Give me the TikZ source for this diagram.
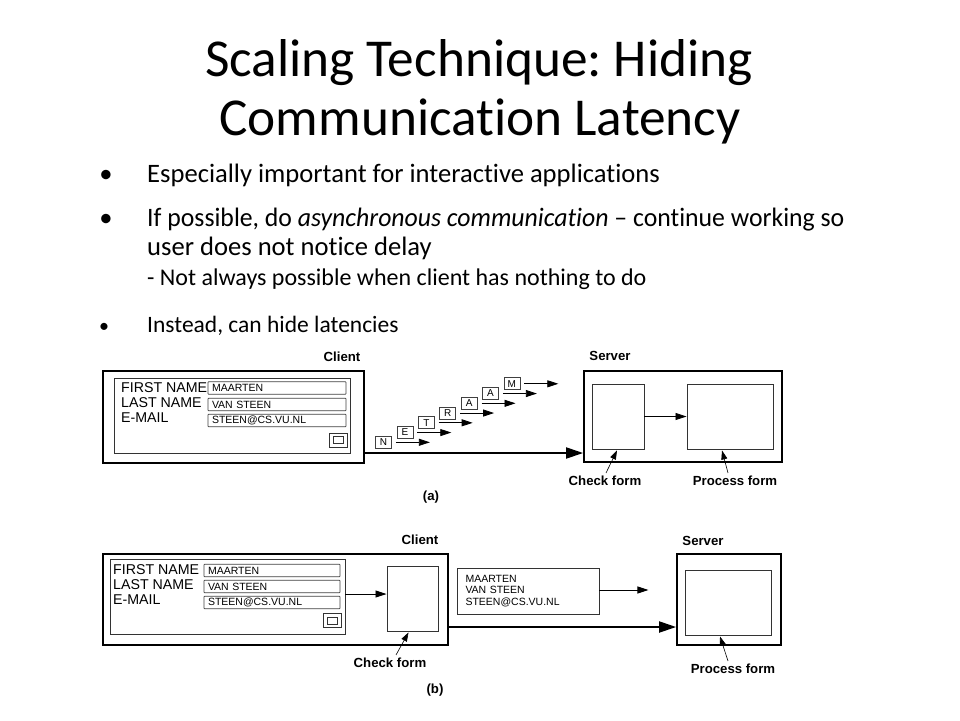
\documentclass[tikz,border=0pt]{standalone}
\usepackage{fontspec}
\setmainfont{Carlito}[Ligatures={NoCommon}]
\newfontfamily\arialf{Liberation Sans}
\usetikzlibrary{arrows.meta,calc}
\frenchspacing
\begin{document}
\begin{tikzpicture}[x=1pt,y=-1pt,
  outerbox/.style={draw=black, line width=1.8pt, inner sep=0pt},
  innerbox/.style={draw=black!80, line width=0.9pt, inner sep=0pt},
  field/.style={draw=black!75, line width=0.8pt, minimum width=#1, minimum height=12.5, inner xsep=3.5pt, inner ysep=0pt, text width=#1-8, align=left, font=\arialf\fontsize{10.5}{11}\selectfont, rounded corners=0.6pt},
  flabel/.style={font=\arialf\fontsize{14.2}{14}\selectfont, anchor=west, inner sep=0pt},
  hdr/.style={font=\arialf\bfseries\fontsize{13.2}{13}\selectfont, inner sep=0pt},
  letterbox/.style={draw=black!75, line width=0.8pt, minimum width=16, minimum height=12, inner sep=0pt, font=\arialf\fontsize{10}{10}\selectfont},
  sarrow/.style={-{Triangle[length=11pt,width=7pt]}, line width=0.8pt},
  bigarrow/.style={-{Triangle[length=17pt,width=11pt]}, line width=2pt},
  ptr/.style={-{Triangle[length=9pt,width=6pt]}, line width=0.6pt},
  btn/.style={draw=black!80, line width=0.8pt, minimum width=18, minimum height=14, inner sep=0pt},
  btninner/.style={draw=black!80, line width=0.7pt, minimum width=10, minimum height=7, inner sep=0pt},
  bodytext/.style={font=\fontsize{26.6}{30}\selectfont, anchor=base west, inner sep=0pt},
  subtext/.style={font=\fontsize{24}{28}\selectfont, anchor=base west, inner sep=0pt}
]
\useasboundingbox (0,0) rectangle (960,720);

% Title
\node[font=\fontsize{53.3}{60}\selectfont, anchor=base, inner sep=0pt] (title1) at (479,76) {Scaling Technique: Hiding};
\node[font=\fontsize{53.3}{60}\selectfont, anchor=base, inner sep=0pt] (title2) at (480,135) {Communication Latency};

% Bullets
\node[font=\fontsize{26.6}{30}\selectfont, anchor=base, inner sep=0pt] (b1) at (106,182) {•};
\node[bodytext] (t1) at (147,182) {Especially important for interactive applications};
\node[font=\fontsize{26.6}{30}\selectfont, anchor=base, inner sep=0pt] (b2) at (106,226) {•};
\node[bodytext] (t2) at (147,226) {\scalebox{0.968}[1]{If possible, do \textit{asynchronous communication} – continue working so}};
\node[bodytext] (t3) at (147,255) {user does not notice delay};
\node[subtext] (t4) at (147,285) {- Not always possible when client has nothing to do};
\node[font=\fontsize{20}{22}\selectfont, anchor=base, inner sep=0pt] (b3) at (104,332) {•};
\node[font=\fontsize{23.5}{26}\selectfont, anchor=base west, inner sep=0pt] (t5) at (147,332) {Instead, can hide latencies};

% ---------- (a) ----------
\node[outerbox, minimum width=261, minimum height=92] (clientA) at (233.5,417) {};
\node[innerbox, minimum width=236, minimum height=75] (formA) at (232,415.5) {};
\node[hdr] (clientAl) at (342,357) {Client};
\node[flabel] (fnA) at (121,388) {FIRST NAME};
\node[flabel] (lnA) at (121,403) {LAST NAME};
\node[flabel] (emA) at (121,418) {E-MAIL};
\node[field=138] (f1A) at (277,388) {MAARTEN};
\node[field=138] (f2A) at (277,404.5) {VAN STEEN};
\node[field=138] (f3A) at (277,420.5) {STEEN@CS.VU.NL};
\node[btn] (btnA) at (338,440) {};
\node[btninner] (btnAi) at (338,440) {};

% letters
\foreach \n/\l [count=\i from 0] in {lN/N,lE/E,lT/T,lR/R,lA1/A,lA2/A,lM/M}{
  \node[letterbox] (\n) at ({383.5+21.4*\i},{442.3-9.75*\i}) {\l};
  \coordinate (\n e) at ($(\n.east)+(38,0)$);
  \draw[sarrow, shorten <=4pt] (\n.east) -- (\n e);
}

\node[outerbox, minimum width=198, minimum height=91] (serverA) at (683,416.5) {};
\node[hdr] (serverAl) at (610,356) {Server};
\node[innerbox, minimum width=52, minimum height=65] (checkA) at (618,416.5) {};
\node[innerbox, minimum width=86, minimum height=65] (procA) at (730,416.5) {};
\draw[sarrow] (checkA.east) -- (procA.west);
\draw[bigarrow] (clientA.east |- 0,453) -- (serverA.west |- 0,453);
\node[hdr] (checkAl) at (605,481) {Check form};
\node[hdr] (procAl) at (735,481) {Process form};
\draw[ptr] ($(checkAl.north)+(1,-3)$) -- ($(checkA.south)+(-1,1)$);
\draw[ptr] ($(procAl.north)+(-7,-3)$) -- ($(procA.south)+(-8,1)$);
\node[hdr] (capA) at (431,497) {(a)};

% ---------- (b) ----------
\node[outerbox, minimum width=345, minimum height=91] (clientB) at (275.5,599.5) {};
\node[innerbox, minimum width=235, minimum height=75] (formB) at (227.5,596.5) {};
\node[hdr] (clientBl) at (420,540) {Client};
\node[flabel] (fnB) at (113,570) {FIRST NAME};
\node[flabel] (lnB) at (113,585) {LAST NAME};
\node[flabel] (emB) at (113,600) {E-MAIL};
\node[field=136] (f1B) at (272,570.5) {MAARTEN};
\node[field=136] (f2B) at (272,586.5) {VAN STEEN};
\node[field=136] (f3B) at (272,602.5) {STEEN@CS.VU.NL};
\node[btn] (btnB) at (332,620.5) {};
\node[btninner] (btnBi) at (332,620.5) {};
\node[innerbox, minimum width=51, minimum height=65] (checkB) at (412.5,598.5) {};
\draw[sarrow] (formB.east |- 0,594) -- (checkB.west |- 0,594);
\node[hdr] (checkBl) at (390,663) {Check form};
\draw[ptr] ($(checkBl.north)+(6,-3)$) -- ($(checkB.south)+(-4,1)$);
\node[hdr] (capB) at (435,690) {(b)};

\node[innerbox, minimum width=142, minimum height=46, align=left, text width=125, inner xsep=0pt, font=\arialf\fontsize{10.5}{11.5}\selectfont] (msgB) at (528,591) {MAARTEN\\VAN STEEN\\STEEN@CS.VU.NL};
\coordinate (msgBe) at ($(msgB.east |- 0,590)+(49,0)$);
\draw[sarrow] (msgB.east |- 0,590) -- (msgBe);

\node[outerbox, minimum width=104, minimum height=91] (serverB) at (729,599.5) {};
\node[hdr] (serverBl) at (703,541) {Server};
\node[innerbox, minimum width=86, minimum height=65] (procB) at (728,602.5) {};
\draw[bigarrow] (clientB.east |- 0,627) -- (serverB.west |- 0,627);
\node[hdr] (procBl) at (733,669) {Process form};
\draw[ptr] ($(procBl.north)+(-5,-3)$) -- ($(procB.south)+(-8,1)$);
\end{tikzpicture}
\end{document}
